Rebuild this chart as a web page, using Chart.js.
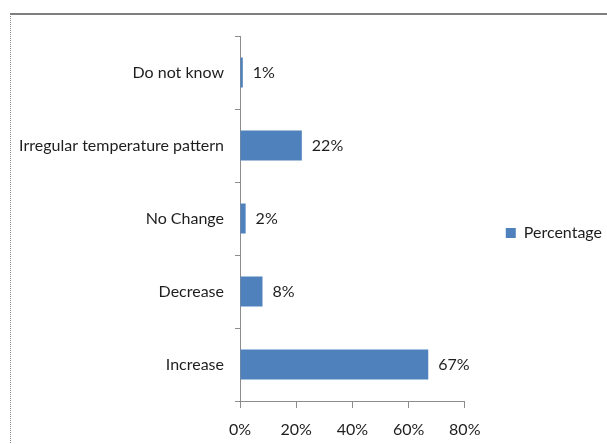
<!DOCTYPE html>
<html>
<head>
<meta charset="utf-8">
<script src="https://cdn.jsdelivr.net/npm/chart.js@4/dist/chart.umd.min.js"></script>
<style>
  html, body { margin: 0; padding: 0; background: #fff; }
  #wrap { position: relative; width: 607px; height: 444px; overflow: hidden; }
  #frame {
    position: absolute; left: 10px; top: 13px; width: 620px; height: 460px;
    border-top: 2px solid #7f7f7f; border-left: 1px dotted #8a8a8a;
    box-sizing: border-box; pointer-events: none;
  }
  canvas { position: absolute; left: 0; top: 0; }
</style>
</head>
<body>
<div id="wrap">
  <canvas id="chart" width="607" height="444"></canvas>
  <div id="frame"></div>
</div>
<script>
// Responses about observed temperature change
const categories = ['Do not know', 'Irregular temperature pattern', 'No Change', 'Decrease', 'Increase'];
const percentages = [1, 22, 2, 8, 67];
const seriesName = 'Percentage';
const xTicks = [0, 20, 40, 60, 80];

const FONT = 'Lato, "Liberation Sans", sans-serif';
const TEXT = '#1e1e1e';
const AXIS = '#8c8c8c';

// writes each bar's value just past its end
const valueLabels = {
  id: 'valueLabels',
  afterDatasetsDraw(chart) {
    const ctx = chart.ctx;
    const meta = chart.getDatasetMeta(0);
    ctx.save();
    ctx.font = '16px ' + FONT;
    ctx.fillStyle = TEXT;
    ctx.textAlign = 'left';
    ctx.textBaseline = 'middle';
    meta.data.forEach((bar, i) => {
      ctx.fillText(percentages[i] + '%', bar.x + 10, bar.y);
    });
    ctx.restore();
  }
};

// lifts the legend slightly above the vertical middle of the chart
const legendLift = {
  id: 'legendLift',
  afterLayout(chart) {
    if (chart.legend) chart.legend.bottom -= 14;
  }
};

new Chart(document.getElementById('chart'), {
  type: 'bar',
  data: {
    labels: categories,
    datasets: [{
      label: seriesName,
      data: percentages,
      backgroundColor: '#4f81bd',
      borderWidth: 0,
      categoryPercentage: 1,
      barPercentage: 0.41
    }]
  },
  options: {
    indexAxis: 'y',
    responsive: false,
    animation: false,
    layout: { padding: { left: 0, top: 36, right: -5, bottom: 0 } },
    plugins: {
      legend: {
        position: 'right',
        labels: {
          font: { family: FONT, size: 16 },
          color: TEXT,
          boxWidth: 10,
          boxHeight: 10,
          padding: 41
        }
      },
      tooltip: { enabled: false }
    },
    scales: {
      x: {
        min: 0,
        max: 80,
        afterBuildTicks(scale) { scale.ticks = xTicks.map(v => ({ value: v })); },
        afterFit(scale) { scale.height = 43; },
        grid: { drawOnChartArea: false, color: AXIS, tickLength: 7 },
        border: { color: AXIS },
        ticks: {
          padding: 12,
          color: TEXT,
          font: { family: FONT, size: 16 },
          callback: v => v + '%'
        }
      },
      y: {
        afterFit(scale) { scale.width = 240; },
        grid: { drawOnChartArea: false, color: AXIS, tickLength: 5, offset: true },
        border: { color: AXIS },
        ticks: {
          padding: 11,
          color: TEXT,
          font: { family: FONT, size: 16 }
        }
      }
    }
  },
  plugins: [valueLabels, legendLift]
});
</script>
</body>
</html>
